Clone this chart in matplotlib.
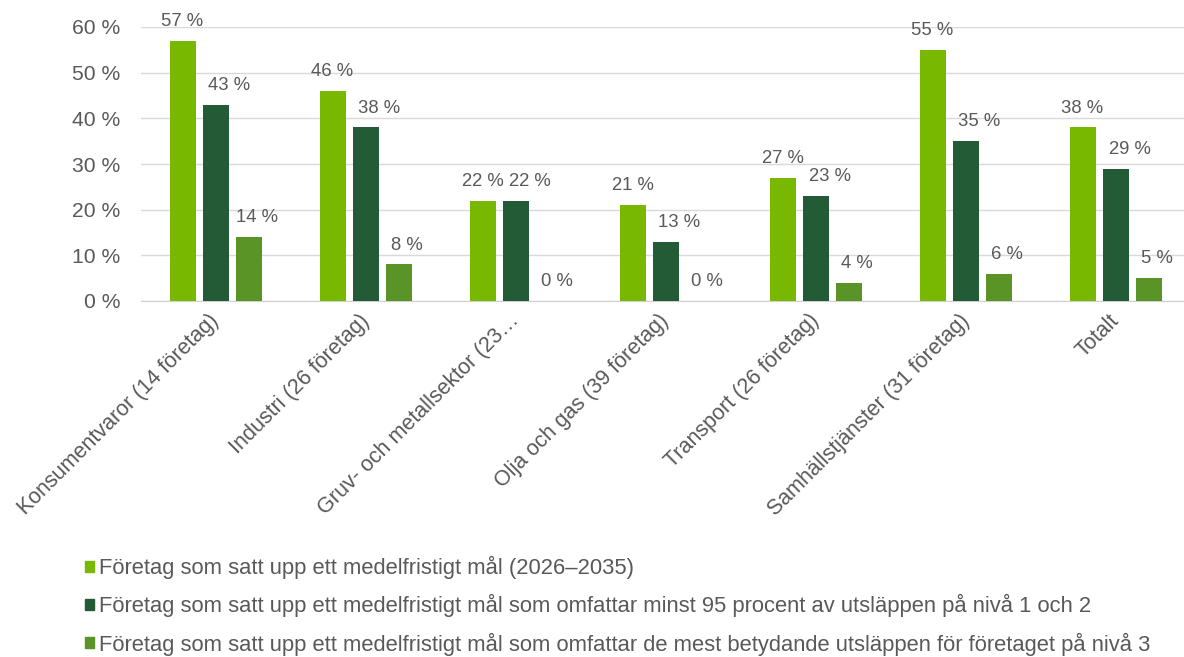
import numpy as np
import matplotlib.pyplot as plt
from matplotlib.patches import Patch

plt.rcParams['font.family'] = ['Liberation Sans', 'DejaVu Sans']

categories = ["Konsumentvaror (14 företag)", "Industri (26 företag)",
              "Gruv- och metallsektor (23…", "Olja och gas (39 företag)",
              "Transport (26 företag)", "Samhällstjänster (31 företag)", "Totalt"]
medel = [57, 46, 22, 21, 27, 55, 38]
minst95 = [43, 38, 22, 13, 23, 35, 29]
niva3 = [14, 8, 0, 0, 4, 6, 5]
series_names = ["Företag som satt upp ett medelfristigt mål (2026–2035)",
                "Företag som satt upp ett medelfristigt mål som omfattar minst 95 procent av utsläppen på nivå 1 och 2",
                "Företag som satt upp ett medelfristigt mål som omfattar de mest betydande utsläppen för företaget på nivå 3"]
colors = ["#78b800", "#245b37", "#5a9326"]
yticks = [0, 10, 20, 30, 40, 50, 60]

gray = "#595959"
fig = plt.figure(figsize=(11.84, 6.57), dpi=100)
ax = fig.add_axes([141 / 1184, 1 - 301 / 657, 1050 / 1184, 274 / 657])

x = np.arange(len(categories))
w = 0.173
step = 0.223
label_shift = [0.0, 0.09, 0.05]  # labels sit a bit right of the darker bars
for i, (vals, col) in enumerate(zip([medel, minst95, niva3], colors)):
    xs = x + (i - 1) * step
    ax.bar(xs, vals, width=w, color=col, zorder=3)
    for xi, v in zip(xs, vals):
        ax.text(xi + label_shift[i], v + 4.2, f"{v} %", ha='center', va='center',
                fontsize=13.3, color=gray)

ax.set_xlim(-0.5, len(categories) - 0.5)
ax.set_ylim(0, 60)
ax.set_yticks(yticks)
ax.set_yticklabels([f"{t} %" for t in yticks], fontsize=15.2, color=gray)
ax.set_xticks(x)
ax.set_xticklabels(categories, rotation=45, ha='right', va='center',
                   rotation_mode='anchor', fontsize=15.5, color=gray)
ax.tick_params(axis='both', length=0)
ax.tick_params(axis='y', pad=15)
ax.tick_params(axis='x', pad=12)
ax.grid(axis='y', color='#d9d9d9', linewidth=1, zorder=0)
for s in ['top', 'right', 'left']:
    ax.spines[s].set_visible(False)
ax.spines['bottom'].set_color('#d0d0d0')

handles = [Patch(color=c) for c in colors]
fig.legend(handles, series_names, loc='upper left',
           bbox_to_anchor=(85 / 1184, 1 - 556 / 657), frameon=False,
           fontsize=15.8, labelcolor=gray, handlelength=0.4, handleheight=0.4,
           handletextpad=0.25, labelspacing=0.69, borderaxespad=0, borderpad=0)

fig.savefig("out.png", dpi=100)
